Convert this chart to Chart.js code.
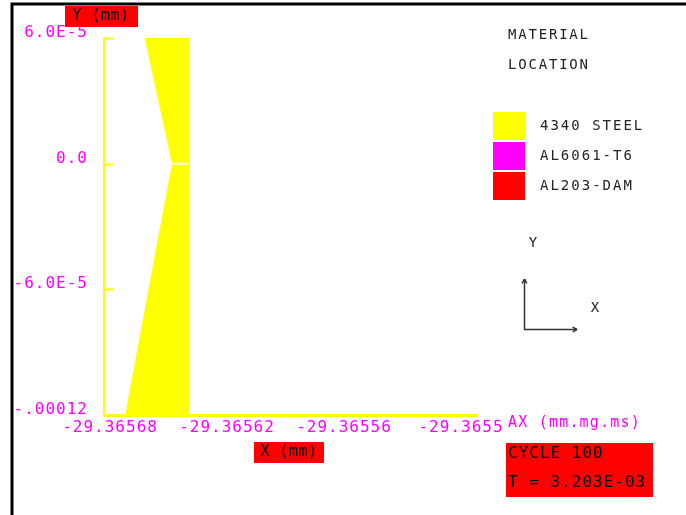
<!DOCTYPE html>
<html>
<head>
<meta charset="utf-8">
<title>Material location</title>
<script src="https://cdn.jsdelivr.net/npm/chart.js"></script>
<style>
  html, body { margin: 0; padding: 0; background: #fff; }
  #plot { display: block; }
</style>
</head>
<body>
<canvas id="plot" width="686" height="515"></canvas>
<script>
// material table (legend)
const materials = ['4340 STEEL', 'AL6061-T6', 'AL203-DAM'];
const materialColors = ['#ffff00', '#ff00ff', '#ff0000'];

// steel region outline (mm)
const steelX = [-29.365662, -29.36564, -29.36564, -29.365672, -29.365648, -29.365662];
const steelY = [6.0e-5, 6.0e-5, -1.2e-4, -1.2e-4, 0, 6.0e-5];

// mesh line across the steel at y = 0
const meshX = [-29.365648, -29.36564];
const meshY = [0, 0];

// axes
const xRange = [-29.3656831, -29.3654918];
const yRange = [-1.2e-4, 6.0e-5];
const xTicks = [-29.36568, -29.36562, -29.36556, -29.3655];
const xTickLabels = ['-29.36568', '-29.36562', '-29.36556', '-29.3655'];
const yTicks = [6.0e-5, 0, -6.0e-5, -1.2e-4];
const yTickLabels = ['6.0E-5', '0.0', '-6.0E-5', '-.00012'];

const MAGENTA = '#ff00ff';
const AXIS_YELLOW = '#ffff00';
const INK = '#222';
const MONO = '"DejaVu Sans Mono", "Liberation Mono", monospace';

function toPoints(xs, ys) {
  return xs.map((x, i) => ({ x, y: ys[i] }));
}

function drawText(ctx, text, x, y, opts) {
  ctx.save();
  ctx.font = opts.font;
  ctx.fillStyle = opts.color;
  ctx.textAlign = opts.align || 'left';
  ctx.textBaseline = 'middle';
  ctx.letterSpacing = opts.spacing || '0px';
  ctx.fillText(text, x, y);
  ctx.restore();
}

function drawArrow(ctx, x1, y1, x2, y2) {
  const ang = Math.atan2(y2 - y1, x2 - x1);
  ctx.beginPath();
  ctx.moveTo(x2, y2);
  ctx.lineTo(x2 - 5 * Math.cos(ang - 0.5), y2 - 5 * Math.sin(ang - 0.5));
  ctx.moveTo(x2, y2);
  ctx.lineTo(x2 - 5 * Math.cos(ang + 0.5), y2 - 5 * Math.sin(ang + 0.5));
  ctx.stroke();
}

const decorPlugin = {
  id: 'decor',
  beforeDraw(chart) {
    // tick labels in the reference are widely spaced
    chart.ctx.letterSpacing = '1px';
  },
  afterDraw(chart) {
    const ctx = chart.ctx;
    const area = chart.chartArea;
    const yScale = chart.scales.y;
    ctx.letterSpacing = '0px';

    // inward tick marks on the y axis
    ctx.save();
    ctx.strokeStyle = AXIS_YELLOW;
    ctx.lineWidth = 2;
    yTicks.forEach((v) => {
      const py = Math.round(yScale.getPixelForValue(v)) + 0.5;
      ctx.beginPath();
      ctx.moveTo(area.left, py);
      ctx.lineTo(area.left + 9, py);
      ctx.stroke();
    });
    ctx.restore();

    // page frame
    ctx.save();
    ctx.strokeStyle = '#000';
    ctx.lineWidth = 3;
    ctx.beginPath();
    ctx.moveTo(12, 515);
    ctx.lineTo(12, 4);
    ctx.lineTo(686, 4);
    ctx.stroke();
    ctx.restore();

    // axis title boxes
    ctx.fillStyle = '#ff0000';
    ctx.fillRect(65, 6, 73, 21);
    drawText(ctx, 'Y (mm)', 101, 16, { font: '15px ' + MONO, color: '#000', align: 'center', spacing: '0.5px' });
    ctx.fillStyle = '#ff0000';
    ctx.fillRect(254, 442, 70, 21);
    drawText(ctx, 'X (mm)', 289, 452, { font: '15px ' + MONO, color: '#000', align: 'center', spacing: '0.5px' });

    drawText(ctx, 'AX (mm.mg.ms)', 508, 423, { font: '15px ' + MONO, color: MAGENTA, spacing: '1.2px' });

    // cycle / time box
    ctx.fillStyle = '#ff0000';
    ctx.fillRect(506, 443, 147, 54);
    drawText(ctx, 'CYCLE 100', 508, 454, { font: '16px ' + MONO, color: '#000', spacing: '1px' });
    drawText(ctx, 'T = 3.203E-03', 508, 483, { font: '16px ' + MONO, color: '#000', spacing: '1px' });

    // material legend
    const legendFont = '14px ' + MONO;
    drawText(ctx, 'MATERIAL', 508, 35, { font: legendFont, color: INK, spacing: '1.8px' });
    drawText(ctx, 'LOCATION', 508, 65, { font: legendFont, color: INK, spacing: '1.8px' });
    materials.forEach((name, i) => {
      const top = 112 + i * 30;
      ctx.fillStyle = materialColors[i];
      ctx.fillRect(493, top, 32, 28);
      drawText(ctx, name, 540, top + 14, { font: legendFont, color: INK, spacing: '2px' });
    });

    // orientation icon
    ctx.save();
    ctx.strokeStyle = '#333';
    ctx.lineWidth = 1.5;
    ctx.beginPath();
    ctx.moveTo(524.5, 279);
    ctx.lineTo(524.5, 329.5);
    ctx.lineTo(577, 329.5);
    ctx.stroke();
    drawArrow(ctx, 524.5, 300, 524.5, 279);
    drawArrow(ctx, 550, 329.5, 577, 329.5);
    ctx.restore();
    drawText(ctx, 'Y', 533, 243, { font: legendFont, color: INK, align: 'center' });
    drawText(ctx, 'X', 595, 308, { font: legendFont, color: INK, align: 'center' });
  }
};

const tickFont = { family: MONO, size: 16 };

new Chart(document.getElementById('plot'), {
  type: 'scatter',
  data: {
    datasets: [
      {
        label: 'mesh',
        data: toPoints(meshX, meshY),
        showLine: true,
        borderColor: '#ffffff',
        borderWidth: 2,
        pointRadius: 0,
        fill: false
      },
      {
        label: materials[0],
        data: toPoints(steelX, steelY),
        showLine: true,
        borderColor: materialColors[0],
        backgroundColor: materialColors[0],
        borderWidth: 1,
        pointRadius: 0,
        tension: 0,
        fill: 'shape'
      }
    ]
  },
  options: {
    responsive: false,
    animation: false,
    devicePixelRatio: 1,
    layout: { padding: { left: 12, top: 38, right: 209, bottom: 60 } },
    plugins: {
      legend: { display: false },
      tooltip: { enabled: false }
    },
    scales: {
      x: {
        type: 'linear',
        min: xRange[0],
        max: xRange[1],
        afterFit: (scale) => { scale.height = 40; },
        afterBuildTicks: (scale) => { scale.ticks = xTicks.map((value) => ({ value })); },
        grid: { drawOnChartArea: false, drawTicks: false },
        border: { display: true, color: AXIS_YELLOW, width: 3 },
        ticks: {
          autoSkip: false,
          maxRotation: 0,
          padding: 3,
          color: MAGENTA,
          font: tickFont,
          callback: (value, index) => xTickLabels[index]
        }
      },
      y: {
        type: 'linear',
        min: yRange[0],
        max: yRange[1],
        afterFit: (scale) => { scale.width = 92; },
        afterBuildTicks: (scale) => { scale.ticks = yTicks.map((value) => ({ value })); },
        grid: { drawOnChartArea: false, drawTicks: false },
        border: { display: true, color: AXIS_YELLOW, width: 2 },
        ticks: {
          autoSkip: false,
          padding: 16,
          labelOffset: -5,
          color: MAGENTA,
          font: tickFont,
          callback: (value, index) => yTickLabels[index]
        }
      }
    }
  },
  plugins: [decorPlugin]
});
</script>
</body>
</html>
